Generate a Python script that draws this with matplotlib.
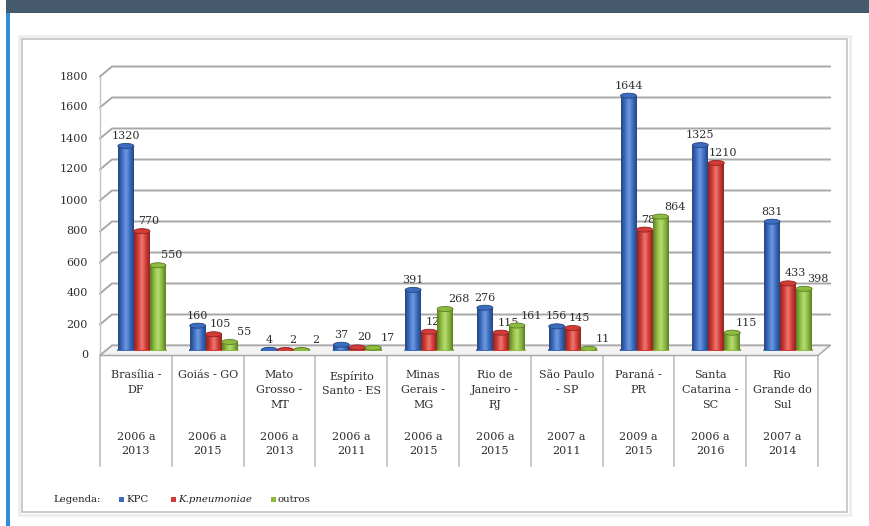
#!/usr/bin/env python3
"""KPC / K. pneumoniae / outros por estado - 3D-style clustered bars."""

import matplotlib
matplotlib.use("Agg")
import matplotlib.pyplot as plt
import numpy as np
from matplotlib.colors import LinearSegmentedColormap
from matplotlib.patches import Ellipse, Rectangle

# ---- data -----------------------------------------------------------------
STATES = ["Brasília -\nDF", "Goiás - GO", "Mato\nGrosso -\nMT",
          "Espírito\nSanto - ES", "Minas\nGerais -\nMG", "Rio de\nJaneiro -\nRJ",
          "São Paulo\n- SP", "Paraná -\nPR", "Santa\nCatarina -\nSC",
          "Rio\nGrande do\nSul"]
PERIODS = ["2006 a\n2013", "2006 a\n2015", "2006 a\n2013", "2006 a\n2011",
           "2006 a\n2015", "2006 a\n2015", "2007 a\n2011", "2009 a\n2015",
           "2006 a\n2016", "2007 a\n2014"]
KPC = [1320, 160, 4, 37, 391, 276, 156, 1644, 1325, 831]
KPN = [770, 105, 2, 20, 121, 115, 145, 780, 1210, 433]
OUTROS = [550, 55, 2, 17, 268, 161, 11, 864, 115, 398]
SERIES_NAMES = ["KPC", "K.pneumoniae", "outros"]
YTICKS = [0, 200, 400, 600, 800, 1000, 1200, 1400, 1600, 1800]

# (dark edge, base, highlight)
COLORS = [("#24467f", "#3b6cc0", "#6f9be0"),
          ("#8e2320", "#d13c37", "#ee7a72"),
          ("#5a7d24", "#8cbb3e", "#b9dc78")]

W, H = 870, 526
AX_L, AX_R = 106, 824          # mid-depth plot area (px)
AX_Y0, AX_Y1 = 350.5, 71.5     # y of 0 and 1800 (px from top)
TXT = "#2e2e2e"
GRID = "#a8a8a8"

plt.rcParams["font.family"] = ["DejaVu Serif"]


def fx(px):
    return px / W


def fy(py):
    return 1 - py / H


def main():
    fig = plt.figure(figsize=(W / 100, H / 100), dpi=100)
    fig.patch.set_facecolor("white")

    # page decoration: header band, blue rule, chart frame (behind the axes)
    fig.add_artist(Rectangle((fx(6), fy(13)), fx(W - 6), 13 / H,
                             transform=fig.transFigure, color="#465a6e", lw=0,
                             zorder=-2))
    fig.add_artist(Rectangle((fx(6), 0), fx(4), fy(13),
                             transform=fig.transFigure, color="#2e8fd8", lw=0,
                             zorder=-2))
    fig.add_artist(Rectangle((fx(19), fy(515)), fx(831), 479 / H,
                             transform=fig.transFigure, fill=False,
                             edgecolor="#ececec", lw=2, zorder=-2))
    fig.add_artist(Rectangle((fx(22), fy(512)), fx(825), 473 / H,
                             transform=fig.transFigure, facecolor="white",
                             edgecolor="#c2c2c2", lw=1.2, zorder=-1))

    ax = fig.add_axes([fx(AX_L), fy(AX_Y0), fx(AX_R - AX_L),
                       (AX_Y0 - AX_Y1) / H])
    ax.axis("off")

    n = len(STATES)
    px_x = n / (AX_R - AX_L)
    px_y = 1800 / (AX_Y0 - AX_Y1)
    dx, dy = 6 * px_x, 5 * px_y      # half depth of the 3D box

    # back wall grid + left wall diagonals
    for v in YTICKS:
        ax.plot([-dx, dx, n + dx], [v - dy, v + dy, v + dy], color=GRID,
                lw=1.4, clip_on=False, zorder=1)
        ax.text(-dx - 12 * px_x, v - dy, str(v), ha="right", va="center",
                fontsize=8, color=TXT)
    ax.plot([-dx, -dx], [-dy, 1800 - dy], color="#c4c4c4", lw=1,
            clip_on=False, zorder=1)

    # floor
    ax.fill([-dx, n - dx, n + dx, dx], [-dy, -dy, dy, dy],
            facecolor="#f3f3f3", edgecolor=GRID, lw=1.1, clip_on=False,
            zorder=1.5)

    # category table under the floor
    for i in range(n + 1):
        ax.plot([i - dx, i - dx], [-dy, -dy - 110 * px_y], color="#c4c4c4",
                lw=1.3, clip_on=False, zorder=1)
    for i, (name, per) in enumerate(zip(STATES, PERIODS)):
        ax.text(i + 0.5 - dx, -dy - 15 * px_y, name, ha="center", va="top",
                fontsize=8, color=TXT, linespacing=1.6)
        ax.text(i + 0.5 - dx, -dy - 76 * px_y, per, ha="center", va="top",
                fontsize=8, color=TXT, linespacing=1.6)

    # bars (cylinder look: horizontal gradient + caps)
    bw = 16 * px_x
    cap = 5 * px_y
    grad = np.linspace(0, 1, 64).reshape(1, -1)
    label_dx = [0, 7, 14]
    x0 = np.arange(n) + 0.5
    for j, vals in enumerate([KPC, KPN, OUTROS]):
        dark, base, light = COLORS[j]
        cmap = LinearSegmentedColormap.from_list(
            f"c{j}", [dark, base, light, base, dark])
        xs = x0 + (j - 1) * bw
        bars = ax.bar(xs, vals, bw, color=base, lw=0, zorder=3)
        for xc, v, p in zip(xs, vals, bars):
            im = ax.imshow(grad, extent=[xc - bw / 2, xc + bw / 2, 0, v],
                           aspect="auto", cmap=cmap, zorder=3,
                           interpolation="bicubic")
            im.set_clip_path(p)
            ax.add_patch(Ellipse((xc, 0), bw, cap, color=dark, zorder=2.9))
            ax.add_patch(Ellipse((xc, v), bw, cap, facecolor=base,
                                 edgecolor=dark, lw=0.6, zorder=4))
            ax.annotate(str(v), (xc, v), xytext=(label_dx[j], 5),
                        textcoords="offset pixels", ha="center", va="bottom",
                        fontsize=8, color=TXT, zorder=2.5)

    ax.set_xlim(0, n)
    ax.set_ylim(0, 1800)

    # legend line
    fig.text(fx(53), fy(499), "Legenda:", ha="left", va="center",
             fontsize=7.3, color="#1e1e1e")
    for (px, label), (_, base, _) in zip([(119, SERIES_NAMES[0]),
                                          (171, SERIES_NAMES[1]),
                                          (271, SERIES_NAMES[2])], COLORS):
        fig.add_artist(Rectangle((fx(px), fy(502)), fx(5), 5 / H,
                                 transform=fig.transFigure, color=base, lw=0))
        fig.text(fx(px + 7), fy(499), label, ha="left", va="center",
                 fontsize=7.3, color="#1e1e1e",
                 style="italic" if label == "K.pneumoniae" else "normal")

    fig.savefig("out.png", dpi=100, facecolor="white")


if __name__ == "__main__":
    main()
